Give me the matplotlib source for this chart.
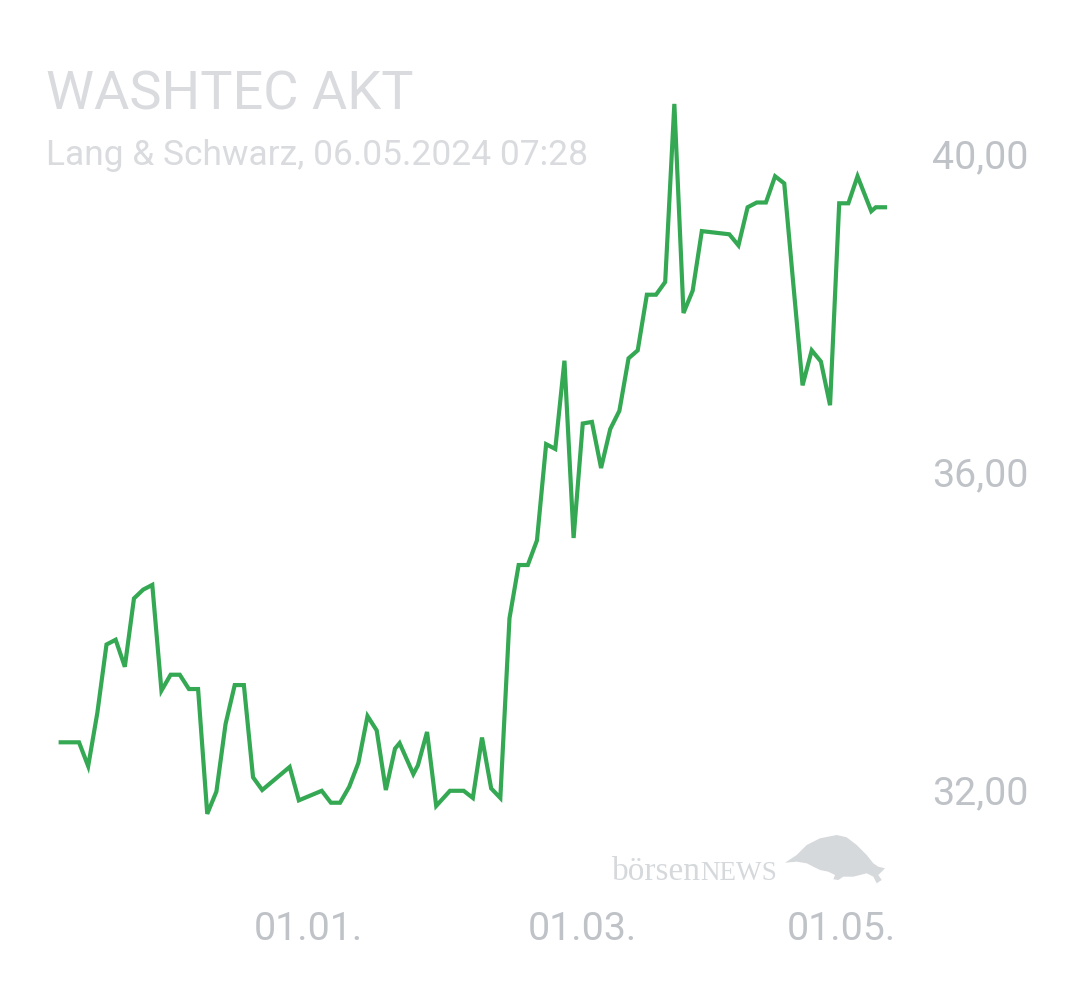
import matplotlib
matplotlib.use("Agg")
import matplotlib.pyplot as plt
import matplotlib.transforms as mtransforms
from matplotlib.patches import Polygon
import pandas as pd

# ---- data ----
dates = ["2023-11-08", "2023-11-12", "2023-11-14", "2023-11-16", "2023-11-18",
         "2023-11-20", "2023-11-22", "2023-11-24", "2023-11-26", "2023-11-28",
         "2023-11-30", "2023-12-02", "2023-12-04", "2023-12-06", "2023-12-08",
         "2023-12-10", "2023-12-12", "2023-12-14", "2023-12-16", "2023-12-18",
         "2023-12-20", "2023-12-22", "2023-12-28", "2023-12-30", "2024-01-04",
         "2024-01-06", "2024-01-08", "2024-01-10", "2024-01-12", "2024-01-14",
         "2024-01-16", "2024-01-18", "2024-01-20", "2024-01-21", "2024-01-24",
         "2024-01-25", "2024-01-27", "2024-01-29", "2024-02-01", "2024-02-04",
         "2024-02-06", "2024-02-08", "2024-02-10", "2024-02-12", "2024-02-14",
         "2024-02-16", "2024-02-18", "2024-02-20", "2024-02-22", "2024-02-24",
         "2024-02-26", "2024-02-28", "2024-03-01", "2024-03-03", "2024-03-05",
         "2024-03-07", "2024-03-09", "2024-03-11", "2024-03-13", "2024-03-15",
         "2024-03-17", "2024-03-19", "2024-03-21", "2024-03-23", "2024-03-25",
         "2024-03-27", "2024-04-02", "2024-04-04", "2024-04-06", "2024-04-08",
         "2024-04-10", "2024-04-12", "2024-04-14", "2024-04-16", "2024-04-18",
         "2024-04-20", "2024-04-22", "2024-04-24", "2024-04-26", "2024-04-28",
         "2024-04-30", "2024-05-03", "2024-05-04", "2024-05-06"]
prices = [32.60, 32.60, 32.30, 32.97, 33.83,
          33.89, 33.55, 34.41, 34.52, 34.58,
          33.25, 33.45, 33.45, 33.27, 33.27,
          31.70, 31.98, 32.83, 33.32, 33.32,
          32.16, 32.00, 32.29, 31.87, 31.99,
          31.84, 31.84, 32.04, 32.34, 32.93,
          32.75, 32.00, 32.52, 32.59, 32.20,
          32.31, 32.73, 31.80, 31.99, 31.99,
          31.90, 32.66, 32.02, 31.90, 34.16,
          34.83, 34.83, 35.14, 36.35, 36.29,
          37.40, 35.17, 36.61, 36.63, 36.05,
          36.54, 36.77, 37.43, 37.53, 38.23,
          38.23, 38.39, 40.63, 38.00, 38.28,
          39.03, 38.99, 38.85, 39.33, 39.39,
          39.39, 39.72, 39.63, 38.35, 37.09,
          37.53, 37.39, 36.84, 39.38, 39.38,
          39.72, 39.28, 39.33, 39.33]
y_ticks = [32, 36, 40]
y_tick_labels = ["32,00", "36,00", "40,00"]
x_ticks = ["2024-01-01", "2024-03-01", "2024-05-01"]
x_tick_labels = ["01.01.", "01.03.", "01.05."]
title = "WASHTEC AKT"
subtitle = "Lang & Schwarz, 06.05.2024 07:28"

# ---- style ----
W, H = 1080, 990
LINE = "#34a853"
LABEL = "#bfc3c8"
TITLE = "#d9dbde"
MARK = "#d6d9dc"
plt.rcParams["font.family"] = ["Roboto", "DejaVu Sans"]

fig = plt.figure(figsize=(W / 100, H / 100), dpi=100)
fig.patch.set_facecolor("white")

left, right, top, bottom = 60.7, 885.0, 90.0, 880.0
ax = fig.add_axes([left / W, 1 - bottom / H, (right - left) / W, (bottom - top) / H])
x = pd.to_datetime(dates)
ax.plot(x, prices, color=LINE, lw=3.0, solid_joinstyle="miter", clip_on=False, zorder=3)

ax.set_xlim(pd.Timestamp(dates[0]), pd.Timestamp(dates[-1]))
ax.set_ylim(30.868, 40.805)
for s in ax.spines.values():
    s.set_visible(False)
ax.set_facecolor("none")

ax.yaxis.tick_right()
ax.set_yticks(y_ticks)
ax.set_yticklabels(y_tick_labels)
ax.tick_params(axis="y", length=0, pad=34, labelsize=28.4, labelcolor=LABEL)

ax.set_xticks(pd.to_datetime(x_ticks))
ax.set_xticklabels(x_tick_labels)
ax.tick_params(axis="x", length=0, pad=22, labelsize=28.4, labelcolor=LABEL)
# last date label is pulled in from the edge, as in the original
lbl = ax.get_xticklabels()[-1]
lbl.set_transform(lbl.get_transform() + mtransforms.ScaledTranslation(-21 / 100, 0, fig.dpi_scale_trans))

fig.text(46 / W, 1 - 95 / H, title, fontsize=39, color=TITLE, va="center", ha="left")
fig.text(46 / W, 1 - 155 / H, subtitle, fontsize=25.5, color=TITLE, va="center", ha="left")

# watermark (börsenNEWS logo)
serif = ["Liberation Serif", "DejaVu Serif"]
fig.text(612 / W, 1 - 880 / H, "börsen", fontsize=24, color=MARK,
         family=serif, va="baseline", ha="left", zorder=1)
fig.text(700 / W, 1 - 880 / H, "NEWS", fontsize=19.5, color=MARK,
         family=serif, va="baseline", ha="left", zorder=1)
bull_px = [(785, 862.7), (796.7, 855), (806.7, 845), (820, 838.3), (836.7, 835),
           (846.7, 837.3), (856.7, 845), (866.7, 855), (873.3, 863.3), (878.3, 866.7),
           (885, 868.3), (881.7, 871.7), (878.3, 875), (881.7, 880), (876.7, 883.3),
           (873.3, 876.7), (866.7, 873.3), (860, 875), (853.3, 876.7), (843.3, 876.7),
           (838.3, 880), (833.3, 879.3), (835, 875), (828.3, 871.7), (820, 870),
           (813.3, 866.7), (806.7, 863.3), (796.7, 861.7)]
bull = Polygon([(px / W, 1 - py / H) for px, py in bull_px], closed=True,
               transform=fig.transFigure, facecolor=MARK, edgecolor="none", zorder=1)
fig.patches.append(bull)

fig.savefig("out.png", dpi=100, facecolor="white")
